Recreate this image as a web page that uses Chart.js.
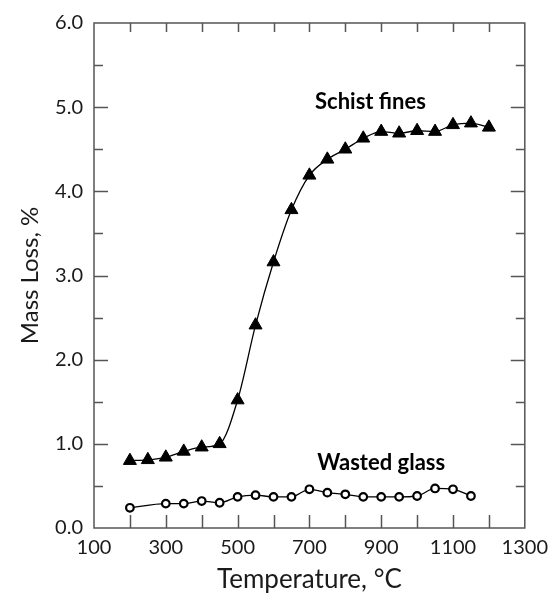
<!DOCTYPE html>
<html>
<head>
<meta charset="utf-8">
<title>Mass loss vs temperature</title>
<script src="https://cdn.jsdelivr.net/npm/chart.js@4/dist/chart.umd.min.js"></script>
<style>
  html, body { margin: 0; padding: 0; background: #fff; }
  canvas { display: block; }
</style>
</head>
<body>
<canvas id="massLossChart" width="556" height="595"></canvas>
<script>
// Temperature steps (°C) and mass loss (%) for each material
const schistTemps = [200, 250, 300, 350, 400, 450, 500, 550, 600, 650, 700, 750, 800, 850, 900, 950, 1000, 1050, 1100, 1150, 1200];
const schistLoss = [0.80, 0.81, 0.84, 0.91, 0.96, 1.00, 1.52, 2.41, 3.16, 3.78, 4.19, 4.38, 4.50, 4.63, 4.71, 4.69, 4.72, 4.71, 4.79, 4.81, 4.76];
const glassTemps = [200, 300, 350, 400, 450, 500, 550, 600, 650, 700, 750, 800, 850, 900, 950, 1000, 1050, 1100, 1150];
const glassLoss = [0.24, 0.29, 0.29, 0.32, 0.30, 0.37, 0.39, 0.37, 0.37, 0.46, 0.42, 0.40, 0.37, 0.37, 0.37, 0.38, 0.47, 0.46, 0.38];

// Labelled ticks (the rest are unlabelled tick marks)
const xTickLabels = [100, 300, 500, 700, 900, 1100, 1300];
const yTickLabels = [0, 1, 2, 3, 4, 5, 6];

// Series names written next to the curves, in data units
const seriesNotes = [
    { text: 'Schist fines', x: 870, y: 5.06 },
    { text: 'Wasted glass', x: 900, y: 0.77 }
];

Chart.defaults.font.family = 'Lato, "Open Sans", sans-serif';
Chart.defaults.color = '#1a1a1a';

function toPoints(xs, ys) {
    return xs.map((x, i) => ({ x: x, y: ys[i] }));
}

// Box frame with inward tick marks on all four sides, plus curve names
const frameAndTicks = {
    id: 'frameAndTicks',
    beforeDatasetsDraw(chart) {
        const { ctx, chartArea: a, scales: { x, y } } = chart;
        ctx.save();
        ctx.strokeStyle = '#555';
        ctx.lineWidth = 1.5;
        ctx.strokeRect(a.left, a.top, a.right - a.left, a.bottom - a.top);

        ctx.beginPath();
        x.ticks.forEach(t => {
            if (t.value <= x.min || t.value >= x.max) return;
            const px = Math.round(x.getPixelForValue(t.value)) + 0.5;
            ctx.moveTo(px, a.bottom);
            ctx.lineTo(px, a.bottom - 13);
            ctx.moveTo(px, a.top);
            ctx.lineTo(px, a.top + 9);
        });
        y.ticks.forEach(t => {
            if (t.value <= y.min || t.value >= y.max) return;
            const py = Math.round(y.getPixelForValue(t.value)) + 0.5;
            const len = Number.isInteger(t.value) ? 14 : 9;
            ctx.moveTo(a.left, py);
            ctx.lineTo(a.left + len, py);
            ctx.moveTo(a.right, py);
            ctx.lineTo(a.right - len, py);
        });
        ctx.stroke();

        ctx.fillStyle = '#000';
        ctx.font = 'bold 22px Lato, sans-serif';
        ctx.textAlign = 'center';
        ctx.textBaseline = 'middle';
        seriesNotes.forEach(n => {
            ctx.fillText(n.text, x.getPixelForValue(n.x), y.getPixelForValue(n.y));
        });
        ctx.restore();
    }
};

const ctx = document.getElementById('massLossChart').getContext('2d');
new Chart(ctx, {
    type: 'line',
    data: {
        datasets: [{
            label: 'Schist fines',
            data: toPoints(schistTemps, schistLoss),
            borderColor: '#000',
            borderWidth: 1.3,
            cubicInterpolationMode: 'monotone',
            pointStyle: 'triangle',
            pointRadius: 7.5,
            pointBackgroundColor: '#000',
            pointBorderColor: '#000',
            pointBorderWidth: 1
        }, {
            label: 'Wasted glass',
            data: toPoints(glassTemps, glassLoss),
            borderColor: '#000',
            borderWidth: 1.3,
            cubicInterpolationMode: 'monotone',
            pointStyle: 'circle',
            pointRadius: 3.8,
            pointBackgroundColor: '#fff',
            pointBorderColor: '#000',
            pointBorderWidth: 2.2
        }]
    },
    options: {
        responsive: false,
        animation: false,
        layout: {
            padding: { top: 19, right: 27, left: 0, bottom: 0 }
        },
        plugins: {
            legend: { display: false },
            tooltip: { enabled: false }
        },
        scales: {
            x: {
                type: 'linear',
                min: 100,
                max: 1300,
                grid: { display: false, drawTicks: false },
                border: { display: false },
                ticks: {
                    stepSize: 100,
                    autoSkip: false,
                    maxRotation: 0,
                    padding: 8,
                    font: { size: 20 },
                    callback: v => xTickLabels.includes(v) ? String(v) : ''
                },
                title: {
                    display: true,
                    text: 'Temperature, °C',
                    font: { size: 26 },
                    padding: { top: 0, bottom: 0 }
                },
                afterFit: s => { s.height = 67; }
            },
            y: {
                min: 0,
                max: 6,
                grid: { display: false, drawTicks: false },
                border: { display: false },
                ticks: {
                    stepSize: 0.5,
                    autoSkip: false,
                    padding: 11,
                    font: { size: 20 },
                    callback: v => yTickLabels.includes(v) ? v.toFixed(1) : ''
                },
                title: {
                    display: true,
                    text: 'Mass Loss, %',
                    font: { size: 24 },
                    padding: { top: 16, bottom: 0 }
                },
                afterFit: s => { s.width = 94; }
            }
        }
    },
    plugins: [frameAndTicks]
});
</script>
</body>
</html>
